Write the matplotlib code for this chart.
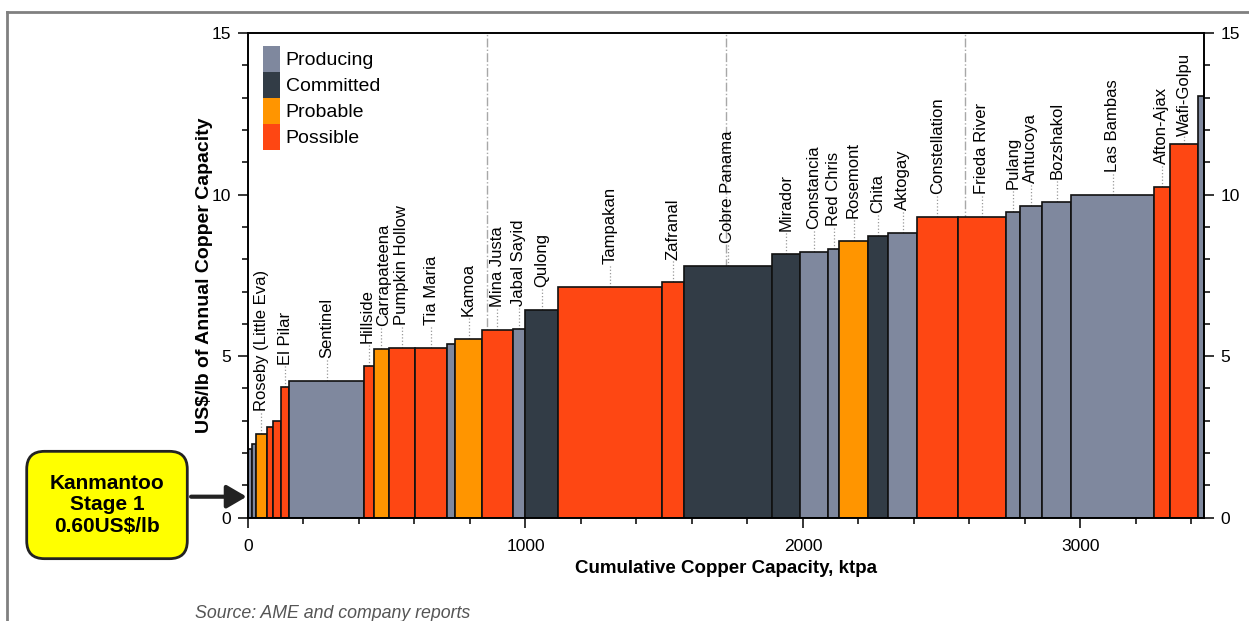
import numpy as np
import matplotlib
matplotlib.use("Agg")
import matplotlib.pyplot as plt
from matplotlib.patches import Patch
from matplotlib.lines import Line2D
from matplotlib.ticker import MultipleLocator

plt.rcParams['font.family'] = ['Liberation Sans', 'DejaVu Sans']

# ---- data ----
mines = ["", "", "Roseby (Little Eva)", "", "", "El Pilar", "Sentinel", "Hillside",
         "Carrapateena", "Pumpkin Hollow", "Tia Maria", "", "Kamoa", "Mina Justa",
         "Jabal Sayid", "Qulong", "Tampakan", "Zafranal", "Cobre Panama", "Mirador",
         "Constancia", "Red Chris", "Rosemont", "Chita", "Aktogay", "Constellation",
         "Frieda River", "Pulang", "Antucoya", "Bozshakol", "Las Bambas", "Afton-Ajax",
         "Wafi-Golpu", ""]
capacity = [16, 12, 41, 22, 27, 31, 269, 36, 53, 94, 118, 27, 98, 110, 45, 120, 373,
            78, 317, 103, 100, 41, 103, 74, 103, 147, 175, 48, 82, 105, 297, 58, 102, 19]
cost = [2.14, 2.28, 2.60, 2.81, 2.99, 4.03, 4.23, 4.69, 5.22, 5.26, 5.26, 5.37, 5.54,
        5.80, 5.85, 6.43, 7.14, 7.28, 7.78, 8.17, 8.21, 8.31, 8.57, 8.71, 8.80, 9.32,
        9.32, 9.47, 9.64, 9.77, 10.00, 10.23, 11.57, 13.04]
status = ["Producing", "Producing", "Probable", "Possible", "Possible", "Possible",
          "Producing", "Possible", "Probable", "Possible", "Possible", "Producing",
          "Probable", "Possible", "Producing", "Committed", "Possible", "Possible",
          "Committed", "Committed", "Producing", "Producing", "Probable", "Committed",
          "Producing", "Possible", "Possible", "Producing", "Producing", "Producing",
          "Producing", "Possible", "Possible", "Producing"]

categories = ["Producing", "Committed", "Probable", "Possible"]
cat_colors = {"Producing": "#7f889e", "Committed": "#323c46",
              "Probable": "#ff9500", "Possible": "#fe4713"}

kanmantoo_cost = 0.65

# label tweaks (points) so crowded names don't collide
nudge = {"Hillside": -1.5, "Carrapateena": 1.5}

# ---- figure ----
fig = plt.figure(figsize=(12.49, 6.21), dpi=100)
ax = fig.add_axes([248 / 1249, 1 - 517.7 / 621, 955.5 / 1249, 484.7 / 621])

left = np.concatenate([[0], np.cumsum(capacity)[:-1]])
total = sum(capacity)
colors = [cat_colors[s] for s in status]

ax.bar(left, cost, width=capacity, align='edge', color=colors,
       edgecolor='#111111', linewidth=1.2, zorder=2)

# quartile marker lines
for q in (0.25, 0.5, 0.75):
    ax.axvline(total * q, color='#a8a8a8', lw=1, ls='-.', zorder=0)

# mine labels with dotted leaders
for x0, w, c, name in zip(left, capacity, cost, mines):
    if not name:
        continue
    cx = x0 + w / 2
    gap = 0.25 if name == "Wafi-Golpu" else 0.71
    ax.plot([cx, cx], [c, c + gap], ls=':', color='#999999', lw=0.9, zorder=1)
    ax.annotate(name, xy=(cx, c + gap), xytext=(nudge.get(name, 0), 0),
                textcoords='offset points', rotation=90, ha='center', va='bottom',
                fontsize=12)

ax.set_xlim(0, total)
ax.set_ylim(0, 15)
ax.xaxis.set_major_locator(MultipleLocator(1000))
ax.xaxis.set_minor_locator(MultipleLocator(200))
ax.yaxis.set_major_locator(MultipleLocator(5))
ax.yaxis.set_minor_locator(MultipleLocator(1))
ax.tick_params(which='major', direction='out', length=7, width=1.1, labelsize=12.5, pad=5)
ax.tick_params(axis='x', which='major', pad=8)
ax.tick_params(which='minor', direction='out', length=4, width=1.1)
for sp in ax.spines.values():
    sp.set_linewidth(1.2)

ax2 = ax.twinx()
ax2.set_ylim(0, 15)
ax2.yaxis.set_major_locator(MultipleLocator(5))
ax2.yaxis.set_minor_locator(MultipleLocator(1))
ax2.tick_params(which='major', direction='out', length=7, width=1.1, labelsize=12.5, pad=5)
ax2.tick_params(which='minor', direction='out', length=4, width=1.1)
for sp in ax2.spines.values():
    sp.set_linewidth(1.2)

ax.set_xlabel("Cumulative Copper Capacity, ktpa", fontsize=13.5, fontweight='bold', labelpad=5)
ax.set_ylabel("US$/lb of Annual Copper Capacity", fontsize=14, fontweight='bold', labelpad=-1)

handles = [Patch(facecolor=cat_colors[k], edgecolor='none', label=k) for k in categories]
ax.legend(handles=handles, loc='upper left', bbox_to_anchor=(15 / 955.5, 1 - 13 / 484.7),
          frameon=False, fontsize=14, handlelength=0.87, handleheight=1.68,
          labelspacing=0, handletextpad=0.3, borderpad=0, borderaxespad=0)

# Kanmantoo call-out
fig.text(107 / 1249, 1 - 505 / 621, "Kanmantoo\nStage 1\n0.60US$/lb", ha='center', va='center',
         fontsize=15, fontweight='bold', linespacing=1.15,
         bbox=dict(boxstyle='round,pad=1.1,rounding_size=0.85', fc='#ffff00', ec='#222222', lw=2))
ax.annotate('', xy=(0, kanmantoo_cost), xytext=(-41, 0), textcoords='offset points',
            annotation_clip=False,
            arrowprops=dict(arrowstyle='-|>,head_length=0.6,head_width=0.35', lw=3,
                            color='#222222', mutation_scale=20, shrinkA=0, shrinkB=1))

fig.text(195 / 1249, 7 / 621, "Source: AME and company reports", fontsize=12.8,
         style='italic', color='#555555', va='center', ha='left')

# outer frame of the slide
fig.add_artist(Line2D([7 / 1249, 1], [1 - 12 / 621] * 2, color='#808080', lw=2))
fig.add_artist(Line2D([7 / 1249] * 2, [0, 1 - 12 / 621], color='#808080', lw=2))

fig.savefig("out.png", dpi=100)
